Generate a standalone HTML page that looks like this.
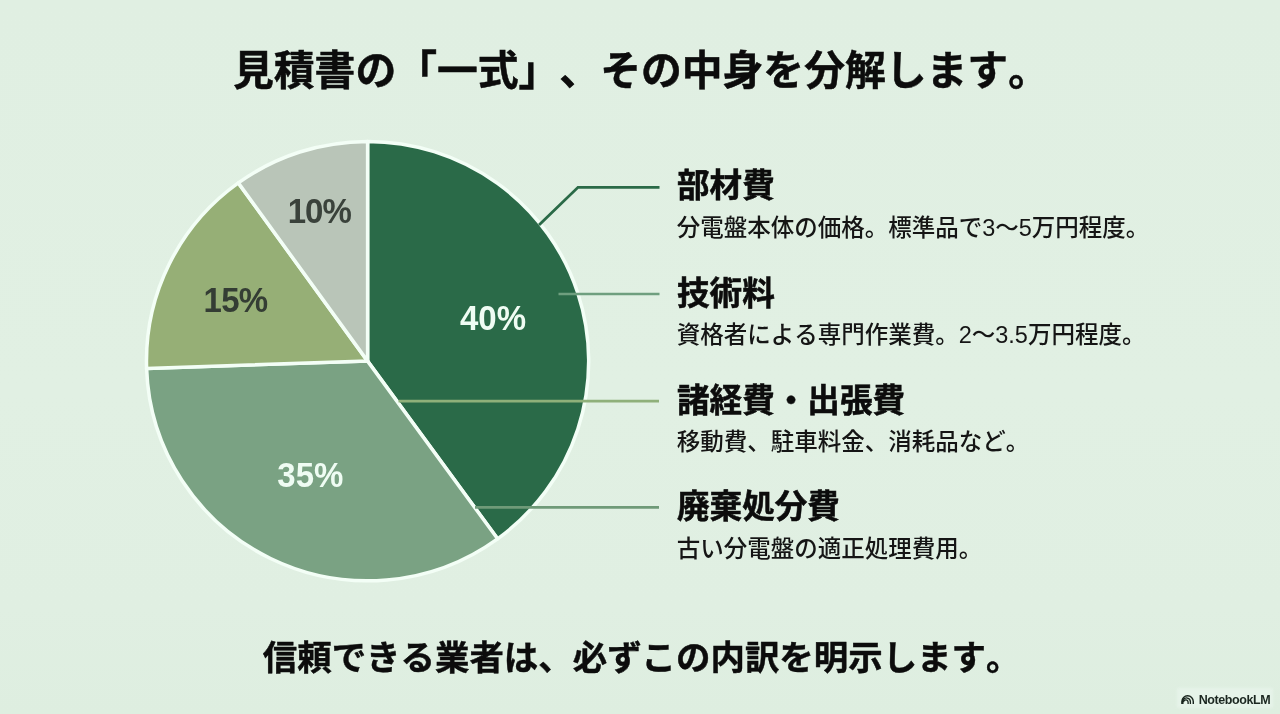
<!DOCTYPE html>
<html lang="ja">
<head>
<meta charset="utf-8">
<title>見積書の「一式」、その中身を分解します。</title>
<style>
  html, body { margin: 0; padding: 0; }
  body {
    width: 1280px; height: 714px; overflow: hidden; position: relative;
    background: #e0efe2;
    font-family: "Liberation Sans", "Noto Sans CJK JP", sans-serif;
    color: #111;
  }
  .bg { position: absolute; left: 0; top: 0; width: 1280px; height: 714px;
    background: linear-gradient(180deg, #e0efe2 0%, #e1f0e3 55%, #e0efe2 85%, #deeee0 100%); }
  svg.chart { position: absolute; left: 0; top: 0; }
  .t { position: absolute; white-space: nowrap; line-height: 1; margin: 0; text-spacing-trim: space-all; font-kerning: none; font-feature-settings: "palt" 0, "halt" 0, "kern" 0; }
  .title { left: 233px; top: 51px; font-size: 40.8px; font-weight: 700; color: #0c0c0c; -webkit-text-stroke: 0.5px #0c0c0c; }
  .footer { left: 262.8px; top: 641px; font-size: 34.45px; font-weight: 700; color: #0c0c0c; -webkit-text-stroke: 0.45px #0c0c0c; }
  .h { font-size: 32.6px; font-weight: 700; color: #0c0c0c; left: 677px; -webkit-text-stroke: 0.55px #0c0c0c; }
  .d { font-size: 23.5px; font-weight: 500; color: #151515; left: 676.7px; }
  .pct { font-size: 33px; font-weight: 700; transform: scaleY(1.07); transform-origin: 0 50%; font-family: "Liberation Sans", "Noto Sans CJK JP", sans-serif; }
  .brand { left: 1198.7px; top: 694px; font-size: 12.5px; font-weight: 700; color: #1b2720; letter-spacing: -0.4px; }
</style>
</head>
<body>
<div class="bg"></div>
<svg class="chart" width="1280" height="714" viewBox="0 0 1280 714">
  <g id="pie" stroke="#f3fef6" stroke-width="3.5" stroke-linejoin="round">
    <path d="M367.6 361.1 L367.6 141.4 A221.1 219.7 0 0 1 497.6 538.8 Z" fill="#2a6a48"/>
    <path d="M367.6 361.1 L497.6 538.8 A221.1 219.7 0 0 1 146.6 368.4 Z" fill="#7aa283"/>
    <path d="M367.6 361.1 L146.6 368.4 A221.1 219.7 0 0 1 238.3 182.9 Z" fill="#96af76"/>
    <path d="M367.6 361.1 L238.3 182.9 A221.1 219.7 0 0 1 367.6 141.4 Z" fill="#b9c5b8"/>
  </g>
  <g fill="none" stroke-width="2.7">
    <path d="M539 225 L578 187.3 L659.5 187.3" stroke="#2a6a47" stroke-width="2.8"/>
    <path d="M558.5 294 L659.5 294" stroke="#6f9f7f"/>
    <path d="M398.5 401.2 L659 401.2" stroke="#8fb07a"/>
    <path d="M475 507.4 L659 507.4" stroke="#6f9a78"/>
  </g>
</svg>

<div class="t title">見積書の「一式」、その中身を分解します。</div>

<div class="t pct" style="left:460px;top:301.3px;color:#effcf3;">40%</div>
<div class="t pct" style="left:277.3px;top:457.5px;color:#effcf3;">35%</div>
<div class="t pct" style="left:203.6px;top:282.5px;color:#343d34;letter-spacing:-0.8px;">15%</div>
<div class="t pct" style="left:287.7px;top:194px;color:#3a423b;letter-spacing:-1px;">10%</div>

<div class="t h" style="top:170px;">部材費</div>
<div class="t d" style="top:216.5px;">分電盤本体の価格。標準品で3～5万円程度。</div>
<div class="t h" style="top:278px;">技術料</div>
<div class="t d" style="top:323.5px;">資格者による専門作業費。2～3.5万円程度。</div>
<div class="t h" style="top:385px;">諸経費・出張費</div>
<div class="t d" style="top:430.5px;">移動費、駐車料金、消耗品など。</div>
<div class="t h" style="top:490.6px;">廃棄処分費</div>
<div class="t d" style="top:537.6px;">古い分電盤の適正処理費用。</div>

<div class="t footer">信頼できる業者は、必ずこの内訳を明示します。</div>

<div style="position:absolute;left:1177px;top:688px;width:96px;height:20px;background:rgba(240,250,243,0.45);filter:blur(1.5px);"></div>
<svg style="position:absolute;left:1181.2px;top:694.9px;" width="13" height="9.2" viewBox="0 0 13 9.2">
  <g fill="none" stroke="#18241d" stroke-width="1.4">
    <path d="M0.9 9.2 V6.5 A5.7 5.75 0 0 1 12.3 6.5 V9.2"/>
    <path d="M1.7 9.2 V6.6 Q1.8 5 2.6 3.6" stroke-width="1.7"/>
    <path d="M2.1 5.3 A3.8 3.8 0 0 1 9.4 6.9 V9.2" stroke-width="1.3"/>
    <path d="M2.5 7.1 A2.2 2.2 0 0 1 7.1 7.4 V9.2" stroke-width="1.3"/>
  </g>
</svg>
<div class="t brand">NotebookLM</div>
</body>
</html>
